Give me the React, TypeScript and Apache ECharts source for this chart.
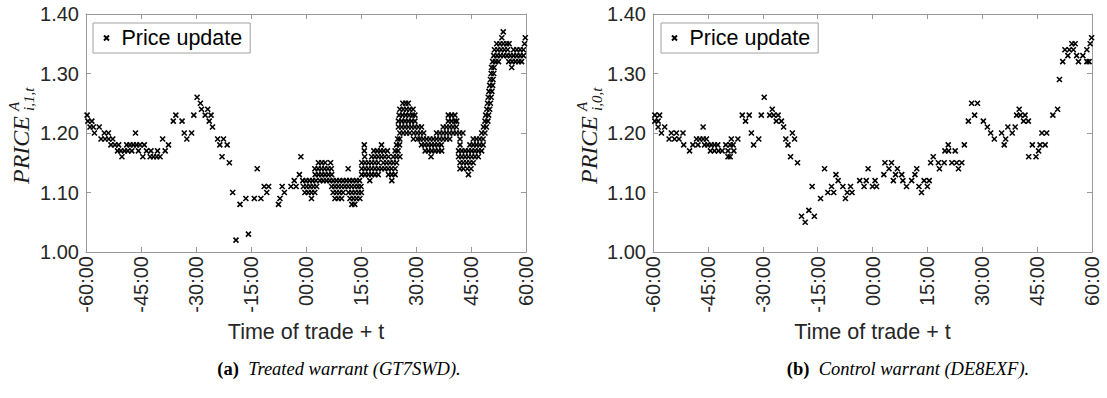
import React, { useEffect, useRef } from 'react';
import * as echarts from 'echarts';

// ---------- tick values and labels ----------
const xTickValues = [-60, -45, -30, -15, 0, 15, 30, 45, 60];
const xTickLabels = ['-60:00', '-45:00', '-30:00', '-15:00', '00:00', '15:00', '30:00', '45:00', '60:00'];
const yTickValues = [1.0, 1.1, 1.2, 1.3, 1.4];
const yTickLabels = ['1.00', '1.10', '1.20', '1.30', '1.40'];

const seriesName = 'Price update';
const xAxisTitle = 'Time of trade + t';

// ---------- (a) treated warrant: [minute, price] ----------
const treatedBefore: [number, number][] = [
  [-59.7, 1.23], [-59.5, 1.22], [-58.4, 1.22], [-58.9, 1.21], [-58.0, 1.21], [-56.4, 1.21], [-57.7, 1.2],
  [-55.9, 1.19], [-54.8, 1.19], [-53.8, 1.19], [-52.7, 1.19], [-55.0, 1.2], [-53.9, 1.2],
  [-53.2, 1.18], [-52.1, 1.18], [-51.1, 1.18],
  [-51.4, 1.17], [-50.5, 1.17], [-49.5, 1.17], [-48.6, 1.17], [-47.5, 1.17], [-50.2, 1.16],
  [-48.9, 1.18], [-48.0, 1.18], [-47.1, 1.18], [-46.2, 1.18], [-45.3, 1.18], [-44.1, 1.18],
  [-46.5, 1.2], [-45.7, 1.17], [-44.5, 1.16], [-43.5, 1.17], [-42.3, 1.17], [-40.5, 1.17],
  [-42.5, 1.16], [-41.6, 1.16], [-40.7, 1.16], [-39.8, 1.16],
  [-39.1, 1.19], [-38.4, 1.17], [-37.5, 1.18], [-36.2, 1.22], [-35.5, 1.23], [-33.8, 1.22],
  [-33.2, 1.2], [-32.5, 1.19], [-31.2, 1.2], [-30.6, 1.23], [-29.7, 1.26], [-28.8, 1.25],
  [-28.5, 1.24], [-26.8, 1.24], [-27.5, 1.23], [-25.9, 1.23], [-26.4, 1.22], [-25.5, 1.21],
  [-24.1, 1.19], [-22.5, 1.19], [-23.5, 1.18], [-21.5, 1.18], [-22.9, 1.16], [-20.9, 1.15],
  [-20.0, 1.1], [-19.1, 1.02], [-18.0, 1.08], [-16.4, 1.09], [-15.7, 1.03], [-14.1, 1.09],
  [-13.3, 1.14], [-12.3, 1.09], [-11.4, 1.11], [-10.2, 1.11], [-10.7, 1.1], [-7.5, 1.08],
  [-7.1, 1.09], [-6.5, 1.11], [-5.9, 1.1], [-4.1, 1.11], [-2.7, 1.11], [-3.2, 1.12],
  [-1.8, 1.13], [-1.4, 1.16],
];

// dense part after the trade: [price, minutes at that price]
const treatedAfter: [number, number[]][] = [
  [1.08, [12.5, 13.3]],
  [1.09, [1.5, 7.9, 8.8, 9.7, 12.0, 12.9, 13.8, 14.7]],
  [1.1, [-0.3, 0.6, 1.5, 2.4, 7.4, 8.3, 9.2, 10.1, 11.6, 12.5, 13.4, 14.3, 15.1]],
  [1.11, [-0.7, 0.2, 1.1, 2.0, 2.9, 7.0, 7.9, 8.8, 9.7, 10.6, 11.5, 12.4, 13.3, 14.2, 15.0]],
  [1.12, [-0.9, 0.0, 0.9, 1.8, 2.7, 3.8, 4.7, 5.6, 6.5, 7.4, 8.3, 9.2, 10.1, 11.0, 11.9, 12.8, 13.7, 14.6, 17.4, 23.4]],
  [1.13, [2.5, 3.4, 4.3, 5.2, 6.1, 7.0, 15.2, 16.1, 17.0, 17.9, 18.8, 19.7, 22.5, 23.4, 24.3, 44.3]],
  [1.14, [2.4, 3.3, 4.2, 5.1, 6.0, 6.9, 11.5, 15.2, 16.1, 17.0, 17.9, 18.8, 19.7, 20.6, 21.5, 22.4, 23.3, 24.3, 42.0, 42.9, 44.0, 45.0]],
  [1.15, [3.4, 4.3, 5.2, 6.7, 15.2, 16.1, 17.0, 17.9, 18.8, 19.7, 21.1, 22.0, 22.9, 23.8, 24.7, 42.0, 42.9, 43.8, 44.7, 45.6]],
  [1.16, [16.0, 17.9, 18.8, 19.7, 20.6, 21.5, 22.5, 23.8, 24.7, 25.6, 34.1, 41.6, 42.5, 43.4, 44.3, 45.2, 46.1, 47.0]],
  [1.17, [15.9, 18.5, 19.4, 20.3, 21.2, 22.2, 24.3, 25.1, 32.5, 33.4, 34.3, 35.2, 36.1, 37.0, 41.6, 42.5, 43.4, 44.3, 45.2, 46.1, 47.0, 47.9]],
  [1.18, [15.9, 20.6, 24.7, 25.5, 31.5, 32.4, 33.3, 34.2, 35.1, 36.0, 36.9, 42.0, 44.7, 45.6, 46.5, 47.4, 48.3]],
  [1.19, [25.0, 25.6, 29.3, 30.4, 31.1, 32.0, 32.9, 33.8, 34.7, 35.6, 36.5, 37.4, 38.3, 39.2, 42.0, 45.6, 46.5, 47.4, 48.3]],
  [1.2, [25.6, 26.5, 27.4, 28.3, 29.4, 30.3, 31.2, 32.1, 35.6, 36.5, 37.4, 38.3, 39.2, 40.1, 41.0, 41.9, 42.8, 47.9, 48.8]],
  [1.21, [25.2, 26.1, 27.0, 27.9, 28.8, 29.7, 30.6, 31.5, 37.4, 38.3, 39.2, 40.1, 41.0, 48.4, 49.2]],
  [1.22, [25.2, 26.1, 27.0, 27.9, 28.8, 29.7, 38.8, 39.7, 40.6, 41.1, 48.8, 49.6]],
  [1.23, [25.4, 26.3, 27.2, 28.1, 29.0, 29.7, 38.8, 39.7, 40.6, 49.0, 49.8]],
  [1.24, [25.6, 26.5, 27.4, 28.3, 29.2, 49.3, 50.1]],
  [1.25, [26.4, 27.2, 27.9, 49.5, 50.3]],
  [1.26, [49.7, 50.5]],
  [1.27, [49.9, 50.7]],
  [1.28, [50.1, 50.9]],
  [1.29, [50.3, 51.0]],
  [1.3, [50.5, 51.2]],
  [1.31, [50.6, 51.3, 56.1]],
  [1.32, [50.9, 51.7, 52.5, 55.3, 56.2, 57.1, 58.0, 58.8]],
  [1.33, [51.2, 52.1, 53.0, 53.9, 54.8, 55.7, 56.6, 57.5, 58.4, 59.3]],
  [1.34, [51.4, 52.3, 53.2, 54.1, 55.0, 56.6, 57.5, 58.4, 59.3]],
  [1.35, [52.0, 52.9, 53.8, 54.7, 55.4, 59.6]],
  [1.36, [53.4, 59.8]],
  [1.37, [53.8]],
];

// ---------- (b) control warrant: [minute, price] ----------
const controlPoints: [number, number][] = [
  [-59.5, 1.23], [-58.2, 1.23], [-59.5, 1.22], [-58.6, 1.22], [-58.6, 1.21], [-56.8, 1.21], [-57.7, 1.2],
  [-55.6, 1.19], [-55.0, 1.2], [-53.6, 1.2], [-54.1, 1.19], [-52.9, 1.19], [-51.8, 1.2], [-51.6, 1.18],
  [-50.0, 1.17], [-49.1, 1.18], [-47.7, 1.18], [-48.1, 1.19], [-47.2, 1.19], [-46.3, 1.19], [-45.4, 1.19],
  [-46.3, 1.21], [-45.9, 1.18], [-45.0, 1.18], [-44.1, 1.18], [-43.2, 1.18], [-42.3, 1.18], [-44.3, 1.17],
  [-43.2, 1.17], [-42.1, 1.17], [-41.1, 1.17], [-40.1, 1.18], [-39.5, 1.17], [-39.5, 1.16], [-38.9, 1.16],
  [-38.9, 1.18], [-38.6, 1.19], [-36.8, 1.19], [-38.1, 1.18], [-37.9, 1.17],
  [-35.6, 1.23], [-33.7, 1.23], [-34.7, 1.22], [-33.1, 1.2], [-32.5, 1.18], [-31.1, 1.19], [-30.4, 1.23],
  [-29.6, 1.26], [-28.1, 1.23], [-27.0, 1.23], [-25.8, 1.23], [-27.4, 1.24], [-26.3, 1.22], [-24.9, 1.22],
  [-24.3, 1.21], [-23.7, 1.19], [-23.1, 1.18], [-21.9, 1.2], [-21.3, 1.19], [-22.4, 1.16], [-20.5, 1.15],
  [-19.4, 1.06], [-18.4, 1.05], [-17.4, 1.07], [-16.5, 1.11], [-15.9, 1.06], [-14.2, 1.09], [-13.1, 1.14],
  [-12.2, 1.1], [-11.2, 1.11], [-10.6, 1.1], [-10.0, 1.13], [-9.4, 1.12], [-8.1, 1.11], [-7.4, 1.09],
  [-6.9, 1.1], [-6.0, 1.11], [-5.6, 1.1], [-3.5, 1.12], [-2.3, 1.11], [-1.7, 1.12], [-1.2, 1.14], [0.0, 1.11],
  [1.1, 1.11], [0.7, 1.12], [3.1, 1.13], [3.4, 1.15], [5.2, 1.15], [4.5, 1.14], [5.7, 1.12], [6.3, 1.13],
  [6.8, 1.14], [8.0, 1.13], [8.3, 1.12], [9.3, 1.11], [10.7, 1.12], [11.6, 1.13], [12.1, 1.14], [12.7, 1.11],
  [13.4, 1.1], [14.1, 1.12], [15.5, 1.12], [15.0, 1.11], [15.9, 1.15], [16.6, 1.16], [18.0, 1.15], [19.6, 1.15],
  [18.3, 1.14], [19.8, 1.17], [20.8, 1.17], [22.6, 1.17], [20.7, 1.18], [21.7, 1.15], [23.0, 1.15], [24.4, 1.15],
  [23.5, 1.14], [25.1, 1.18], [26.2, 1.22], [27.1, 1.25], [28.7, 1.25], [27.9, 1.23], [30.3, 1.22], [31.4, 1.21],
  [32.3, 1.2], [33.3, 1.19], [35.3, 1.2], [36.0, 1.18], [36.4, 1.19], [37.0, 1.21], [38.2, 1.2], [39.0, 1.21],
  [40.1, 1.24], [39.4, 1.23], [40.4, 1.23], [41.7, 1.23], [41.3, 1.22], [42.6, 1.22], [42.7, 1.16], [43.7, 1.18],
  [44.7, 1.16], [45.4, 1.17], [45.8, 1.18], [47.2, 1.18], [46.3, 1.2], [47.6, 1.2], [49.3, 1.23], [50.6, 1.24],
  [51.1, 1.29], [52.0, 1.32], [52.6, 1.34], [53.8, 1.34], [54.9, 1.34], [53.4, 1.33], [54.5, 1.35], [55.4, 1.35],
  [55.8, 1.33], [56.3, 1.32], [57.5, 1.33], [58.6, 1.32], [59.2, 1.32], [58.6, 1.34], [59.5, 1.35], [59.9, 1.36],
];

// ---------- styling ----------
const AXIS_COLOR = '#9a9a9a';
const TEXT_COLOR = '#262626';
const SANS = '"Liberation Sans", Arial, sans-serif';
const SERIF = '"Liberation Serif", "Times New Roman", serif';
const X_MARK = 'path://M0 0L10 10M10 0L0 10';

const fmtX = (v: number) => {
  const i = xTickValues.findIndex((t) => Math.abs(t - v) < 1e-6);
  return i >= 0 ? xTickLabels[i] : '';
};
const fmtY = (v: number) => {
  const i = yTickValues.findIndex((t) => Math.abs(t - v) < 1e-6);
  return i >= 0 ? yTickLabels[i] : '';
};

const lineStyle = { color: AXIS_COLOR, width: 1 };

function makeXAxes(gridIndex: number) {
  const common = {
    type: 'value',
    gridIndex,
    min: xTickValues[0],
    max: xTickValues[xTickValues.length - 1],
    interval: 15,
    splitLine: { show: false },
    axisLine: { show: true, onZero: false, lineStyle },
    axisTick: { show: true, inside: true, length: 5, lineStyle },
  };
  return [
    {
      ...common,
      position: 'bottom',
      axisLabel: {
        rotate: 90,
        margin: 4,
        fontSize: 20,
        fontFamily: SANS,
        color: TEXT_COLOR,
        formatter: fmtX,
      },
      name: xAxisTitle,
      nameLocation: 'middle',
      nameGap: 68,
      nameTextStyle: { fontSize: 21.5, fontFamily: SANS, color: TEXT_COLOR },
    },
    { ...common, position: 'top', axisLabel: { show: false } },
  ];
}

function makeYAxes(gridIndex: number) {
  const common = {
    type: 'value',
    gridIndex,
    min: yTickValues[0],
    max: yTickValues[yTickValues.length - 1],
    interval: 0.1,
    splitLine: { show: false },
    axisLine: { show: true, onZero: false, lineStyle },
    axisTick: { show: true, inside: true, length: 5, lineStyle },
  };
  return [
    {
      ...common,
      position: 'left',
      axisLabel: { margin: 7, fontSize: 20, fontFamily: SANS, color: TEXT_COLOR, formatter: fmtY },
    },
    { ...common, position: 'right', axisLabel: { show: false } },
  ];
}

function makeLegend(left: number) {
  return {
    show: true,
    data: [seriesName],
    left,
    top: 23,
    orient: 'horizontal',
    backgroundColor: '#ffffff',
    borderColor: '#a0a0a0',
    borderWidth: 1,
    borderRadius: 0,
    padding: [4, 8, 4, 10],
    itemWidth: 20,
    itemHeight: 5,
    itemGap: 0,
    selectedMode: false,
    textStyle: { fontSize: 21.5, lineHeight: 21, fontFamily: SANS, color: '#000' },
  };
}

function yName(x: number, y: number, sub: string) {
  const base = {
    textAlign: 'left',
    align: 'left',
    textVerticalAlign: 'middle',
    verticalAlign: 'middle',
    fill: '#1a1a1a',
    textFill: '#1a1a1a',
    opacity: 1,
  };
  return {
    type: 'group',
    x,
    y,
    rotation: Math.PI / 2,
    children: [
      { type: 'text', x: 0, y: 0, style: { ...base, text: 'PRICE', font: `italic 24px ${SERIF}` } },
      { type: 'text', x: 73, y: -7, style: { ...base, text: 'A', font: `italic 15px ${SERIF}` } },
      { type: 'text', x: 73, y: 8, style: { ...base, text: sub, font: `italic 15px ${SERIF}` } },
    ],
  };
}

function caption(x: number, y: number, tag: string, body: string) {
  return {
    type: 'text',
    x,
    y,
    style: {
      text: `{b|${tag}}{i|  ${body}}`,
      textAlign: 'center',
      align: 'center',
      textVerticalAlign: 'middle',
      verticalAlign: 'middle',
      fill: '#000',
      textFill: '#000',
      rich: {
        b: { fontFamily: SERIF, fontWeight: 'bold', fontSize: 18.5, fill: '#000', color: '#000', textFill: '#000' },
        i: { fontFamily: SERIF, fontStyle: 'italic', fontSize: 18.5, fill: '#000', color: '#000', textFill: '#000' },
      },
    },
  };
}

export default function App() {
  const ref = useRef<HTMLDivElement>(null);

  useEffect(() => {
    if (!ref.current) return;
    const chart = echarts.init(ref.current, undefined, { renderer: 'svg' });

    const treatedData = [
      ...treatedBefore.map(([t, p]) => [t, p]),
      ...treatedAfter.flatMap(([p, ts]) => ts.map((t) => [t, p])),
    ];
    const controlData = controlPoints.map(([t, p]) => [t, p]);

    const scatterStyle = {
      type: 'scatter',
      name: seriesName,
      symbol: X_MARK,
      symbolSize: 5,
      itemStyle: { color: 'rgba(0,0,0,0)', borderColor: '#000', borderWidth: 1.6, opacity: 1 },
      emphasis: { disabled: true },
    };

    chart.setOption({
      animation: false,
      backgroundColor: '#ffffff',
      grid: [
        { left: 86, top: 14, width: 440, height: 238, containLabel: false },
        { left: 653, top: 14, width: 439, height: 238, containLabel: false },
      ],
      xAxis: [...makeXAxes(0), ...makeXAxes(1)],
      yAxis: [...makeYAxes(0), ...makeYAxes(1)],
      legend: [makeLegend(93), makeLegend(661)],
      series: [
        { ...scatterStyle, xAxisIndex: 0, yAxisIndex: 0, data: treatedData },
        { ...scatterStyle, xAxisIndex: 2, yAxisIndex: 2, data: controlData },
      ],
      graphic: [
        yName(21, 184, 'i,1,t'),
        yName(589, 184, 'i,0,t'),
        caption(339, 369, '(a)', 'Treated warrant (GT7SWD).'),
        caption(908, 369, '(b)', 'Control warrant (DE8EXF).'),
      ],
    });

    return () => chart.dispose();
  }, []);

  return (
    <div
      ref={ref}
      style={{ position: 'absolute', left: 0, top: 0, width: 1107, height: 398, background: '#fff' }}
    />
  );
}
